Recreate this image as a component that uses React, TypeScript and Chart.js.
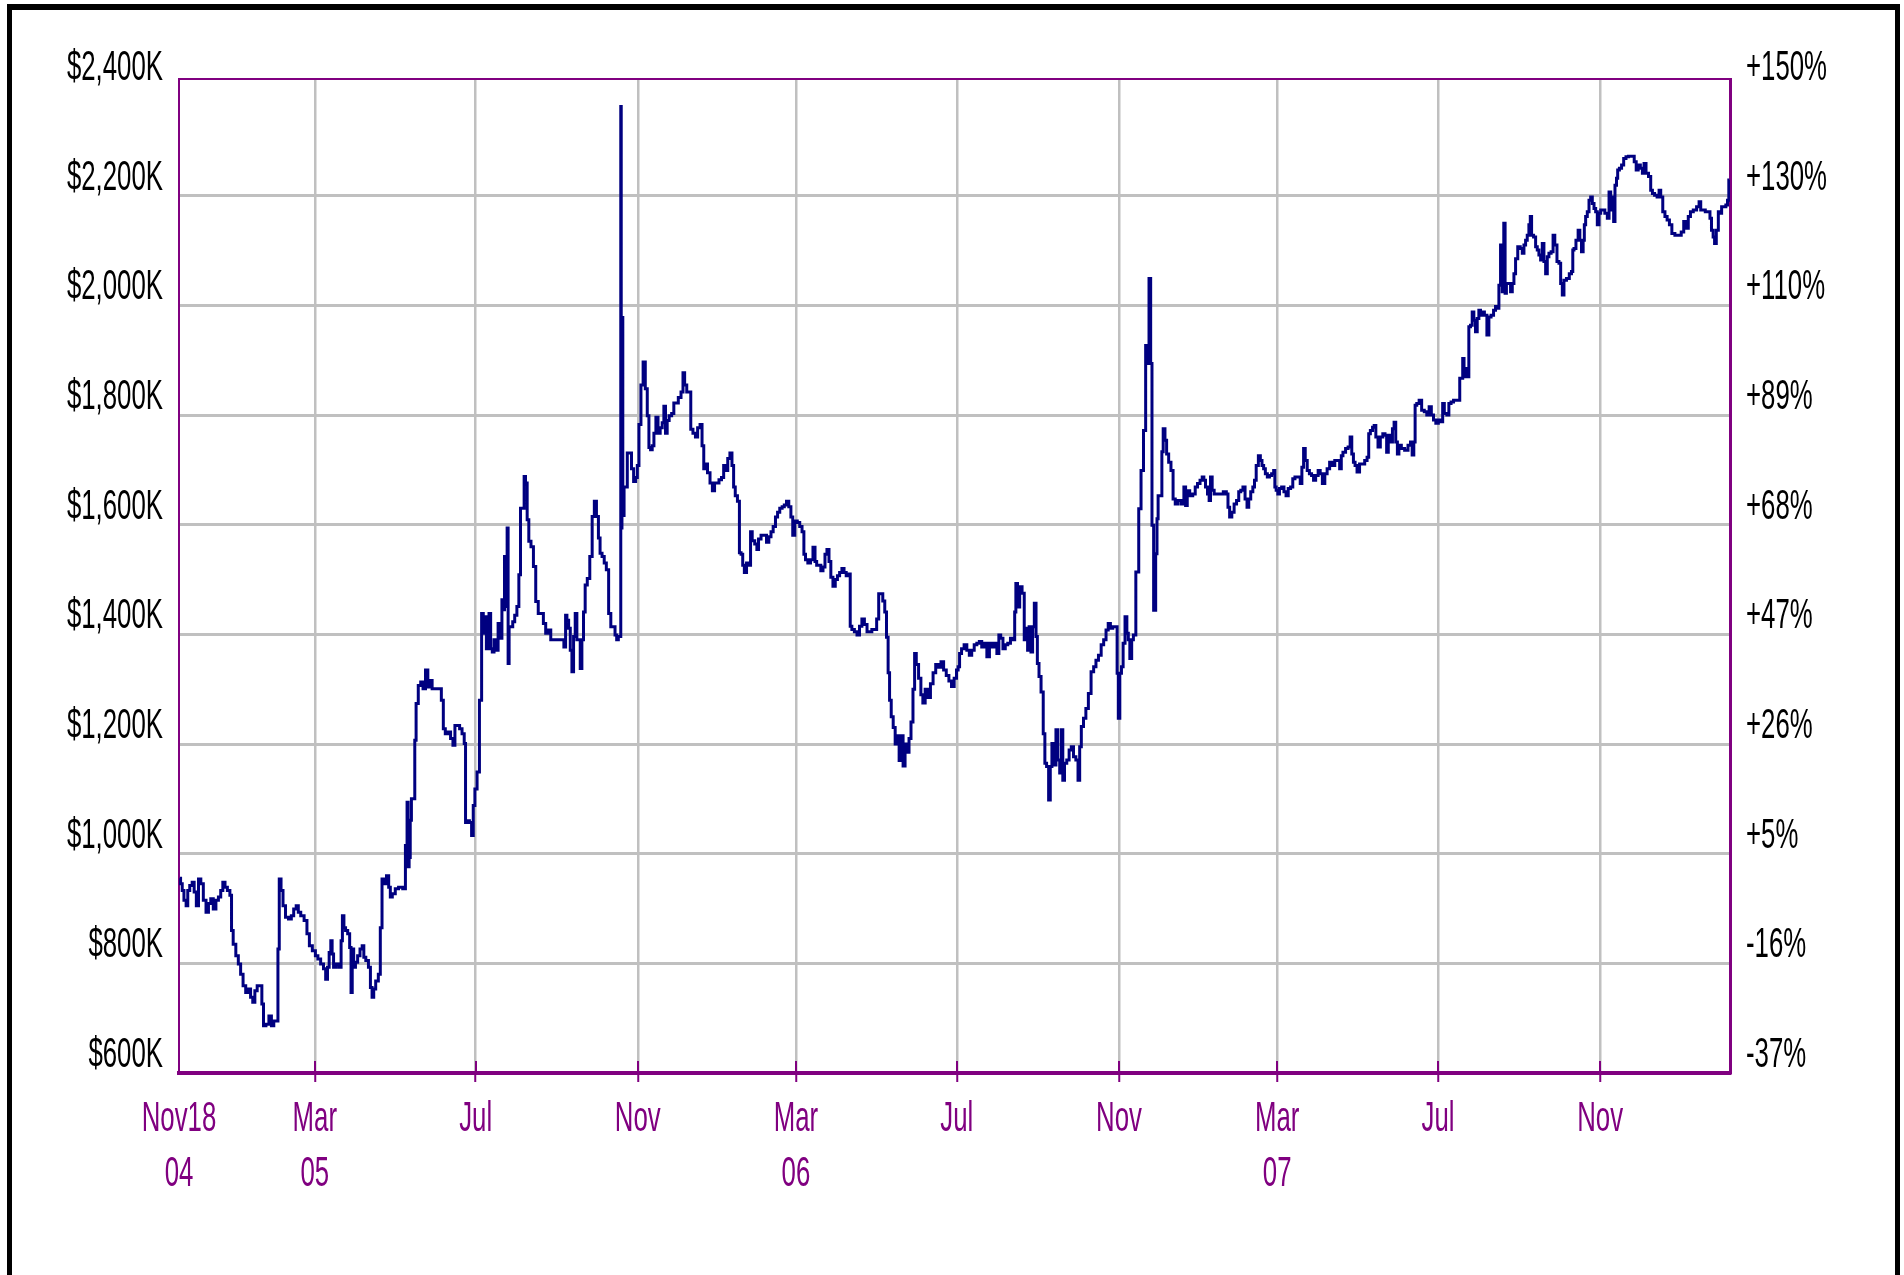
import React, { useEffect, useRef } from "react";
import { Chart, registerables } from "chart.js";

Chart.register(...registerables);

// Tick positions on the time axis: days since 18 Nov 2004
const tickDays = [0, 103, 225, 348, 468, 590, 713, 833, 955, 1078];
const tickMonths = ["Nov18", "Mar", "Jul", "Nov", "Mar", "Jul", "Nov", "Mar", "Jul", "Nov"];
const tickYears = ["04", "05", "", "", "06", "", "", "07", "", ""];
const lastDay = 1176.5;

// Value axis (thousands of dollars) and matching return labels
const valueTicks = [600, 800, 1000, 1200, 1400, 1600, 1800, 2000, 2200, 2400];
const valueLabels = ["$600K", "$800K", "$1,000K", "$1,200K", "$1,400K", "$1,600K", "$1,800K", "$2,000K", "$2,200K", "$2,400K"];
const returnLabels = ["-37%", "-16%", "+5%", "+26%", "+47%", "+68%", "+89%", "+110%", "+130%", "+150%"];

// Portfolio value series: day offsets and values ($K)
const seriesDays = [
  0.6, 1.8, 3.1, 4.4, 6.4, 6.9, 9.4, 10.6, 12.4, 13.9, 15.7, 17.4, 19.5, 21.5, 23.2, 25, 27, 29, 30.8, 32.5,
  34, 35.8, 37.6, 39.6, 40.1, 42.1, 44.1, 45.9, 47.6, 49.6, 51.6, 53.4, 55.2, 56.7, 58.4, 60.2, 62.2, 63.5, 64.7, 67.2,
  69.2, 71, 72.8, 74.8, 75.3, 76.8, 78, 79.8, 81.8, 84.3, 86.1, 87.9, 89.9, 91.1, 93.6, 96.2, 97.9, 99.9, 102.4, 104.5,
  106.2, 108.7, 110.5, 112, 113.3, 114.5, 115.8, 116.5, 118, 120, 122.6, 123.3, 124.6, 125.6, 127.1, 128.8, 130.1, 130.9, 131.9, 133.1,
  134.6, 136.4, 138.2, 139.7, 140.7, 142.7, 144.7, 145.7, 147.2, 148.2, 150.2, 152.2, 153.2, 154.8, 156.5, 158.3, 159.8, 160.8, 162.8, 165.3,
  167.8, 171.6, 171.9, 172.6, 173.4, 174.2, 174.9, 175.9, 176.7, 178.5, 179.2, 180.5, 182.5, 184.2, 186, 188, 189.5, 191, 193, 195.6,
  198, 200, 201, 203, 205, 207, 208.6, 210, 212, 213.7, 215.7, 217, 217.7, 219.4, 221.2, 222.7, 223.7, 225.2, 227, 228.8,
  230.3, 231.3, 232.5, 233.8, 234.5, 235.8, 237, 238.3, 239.6, 241.3, 242.8, 244.6, 245.3, 246.4, 247.4, 248.4, 249.4, 249.9, 250.9, 252.4,
  253.9, 255.4, 257.2, 258.4, 259.7, 261.4, 262.2, 263.5, 264.7, 266, 268, 269.7, 271.5, 273.5, 275.5, 277.3, 279, 281, 283, 286,
  291, 292.9, 293.6, 294.9, 296.2, 297.4, 298.7, 299.9, 301.2, 302.4, 303.7, 305, 306.2, 307.5, 308.7, 310.7, 312.5, 314.3, 315.8, 317.5,
  318.8, 320, 321.8, 323.3, 325, 326.8, 328.3, 330.1, 331.4, 332.6, 333.9, 335, 335.2, 335.7, 336.3, 337, 338.2, 339.4, 340.7, 342.5,
  344, 345.7, 347, 348.3, 349.5, 351.3, 352.8, 354.6, 355.8, 357.1, 358.3, 359.6, 360.9, 362.6, 364.1, 365.9, 367.2, 368.4, 369.7, 370.9,
  372.7, 374.7, 376, 377.7, 379.8, 381.8, 382.8, 384.3, 386, 387.8, 388.6, 391.1, 392.4, 394.4, 396.1, 397.4, 398.7, 399.9, 401.9, 403.7,
  405.5, 407, 408.7, 410.5, 412.5, 413.8, 415.5, 417, 418.8, 420.1, 421.3, 422.6, 424.6, 425.6, 427.1, 428.1, 429.6, 431.4, 433.2, 433.9,
  435.7, 437.7, 439, 440.2, 442.8, 444.8, 446.5, 448.3, 449.8, 451.6, 453.3, 454.8, 456.6, 458.4, 459.9, 461.7, 463.4, 464.9, 466.2, 468,
  470, 471.7, 473.5, 474.5, 476, 478, 480, 481.8, 483.1, 484.3, 486.1, 487.6, 489.4, 490.6, 492.4, 493.7, 495.2, 496.9, 498.7, 500.2,
  502, 503.7, 505.2, 507, 508.8, 509.5, 511.3, 513.3, 515.3, 517.1, 518.9, 520.9, 522.9, 524.7, 526.4, 528.4, 530, 531.5, 533, 534.7,
  536, 537.3, 538.5, 539.5, 541, 542.5, 544, 545.5, 547, 548.5, 550, 551.5, 553, 554.5, 556, 557.5, 558.5, 560, 562, 563.5,
  565, 567, 569, 571, 573, 575, 577, 579, 581, 583, 585, 587, 589, 590.5, 591.5, 592.7, 594.5, 596.6, 598.6, 600.4,
  602.2, 604.2, 606.2, 608, 609.8, 611.8, 613.8, 615.7, 617.5, 619.5, 621.3, 622.5, 624.1, 625.9, 627.6, 629.7, 631.7, 633.5, 634.3, 635.3,
  636.8, 638.6, 640.4, 641.9, 643.2, 644.2, 645.5, 647, 648, 649.6, 650.6, 651.6, 653.1, 654.7, 656.4, 657.2, 659, 660.3, 661.5, 662.8,
  664.6, 665.8, 667.4, 668.7, 669.9, 670.9, 672.5, 674.3, 676.1, 677.6, 679.4, 681.2, 682.7, 683.7, 685.2, 687, 688.8, 690.8, 692.9, 694.7,
  696.4, 698.5, 700.5, 702.3, 704.1, 705.6, 707.4, 709.2, 711.2, 712, 713, 714.3, 715.5, 716.8, 718.4, 719.6, 720.6, 721.9, 723.4, 724.5,
  727.1, 728.9, 730.6, 732.6, 733.9, 735.2, 736.4, 737.7, 738.4, 740.2, 741.5, 742.2, 743.2, 745.3, 745.8, 747.3, 748.5, 749.8, 751.6, 753.3,
  754.8, 756.6, 759.1, 761.6, 762.9, 764.2, 765.4, 767.9, 770, 771.7, 773.5, 775.5, 776.8, 778, 779.3, 781, 781.8, 783.1, 784.3, 786.1,
  788.1, 790.6, 793.7, 795.2, 796.2, 797.7, 799.5, 801.2, 803.2, 804.5, 806.3, 807.8, 809.5, 810.8, 812.1, 813.8, 815.3, 816.3, 817.9, 819.6,
  820.9, 822.1, 823.4, 824.7, 826.4, 827.9, 829.7, 831, 831.5, 833, 834, 835.5, 837.3, 839, 840.5, 842.3, 844.1, 845.6, 847.4, 849.9,
  851.1, 852.4, 853.7, 854.9, 856.7, 858.2, 860, 861.2, 863.2, 865, 866.3, 868.3, 870, 871.8, 873.8, 875.8, 877.6, 879.4, 881.4, 881.9,
  883.9, 885.9, 887.7, 889, 890.2, 891.5, 892.7, 894.5, 896.5, 898.5, 900.3, 902.1, 902.8, 904.6, 906.1, 907.1, 908.6, 910.4, 912.1, 914.2,
  915.4, 916.7, 917.9, 919.7, 921.2, 922.2, 923.7, 924.7, 926, 928.4, 931, 933.5, 934.8, 936, 937.3, 938, 939.8, 941.6, 943.6, 945.6,
  947.4, 949.2, 950.7, 952.5, 954.2, 956.3, 958.3, 958.8, 960.8, 962.6, 963.9, 965.9, 967.7, 969.4, 971, 972, 973.5, 974, 975.5, 976.5,
  977.8, 979, 980.3, 981.6, 982.8, 984.1, 985.4, 986.6, 987.9, 989.2, 991.2, 993, 994.2, 996.3, 998, 999.3, 1000.6, 1001.8, 1003.1, 1004.4,
  1005.4, 1006.4, 1007.4, 1009.4, 1010.7, 1012, 1013.2, 1014.5, 1016.5, 1018.3, 1019.6, 1020.8, 1022.1, 1023.3, 1024.6, 1025.4, 1026.6, 1028.4, 1029.7, 1030.9,
  1032.2, 1033.5, 1034.7, 1036, 1037.3, 1038.5, 1039.8, 1041.8, 1042.8, 1044.4, 1046.1, 1047.4, 1048.7, 1049.9, 1051.2, 1053.7, 1055.5, 1057, 1057.5, 1058.8,
  1060.5, 1062.1, 1063.1, 1064.6, 1065.6, 1066.4, 1067.6, 1068.9, 1070.2, 1071.4, 1072.7, 1074, 1075.2, 1076.5, 1077.8, 1079, 1080.3, 1082.8, 1084.1, 1085.4,
  1086.6, 1087.9, 1088.6, 1089.9, 1090.9, 1091.7, 1093.5, 1095, 1096.7, 1098.5, 1100.5, 1103.1, 1104.6, 1106.1, 1107.6, 1109.4, 1110.7, 1111.9, 1113.7, 1115.7,
  1117, 1118.3, 1120.3, 1122.1, 1123.3, 1124.6, 1126.4, 1127.9, 1129.7, 1131.4, 1133.4, 1136, 1138.5, 1140.5, 1142.3, 1144.1, 1145.6, 1147.4, 1149.9, 1152.4,
  1153.7, 1154.9, 1156.7, 1158.8, 1160.8, 1161.8, 1163.1, 1164.3, 1165.3, 1166.9, 1168.4, 1169.4, 1170.9, 1172.7, 1174, 1175.2, 1176
];

const seriesValues = [
  955, 945, 933, 915, 905, 933, 942, 948, 930, 905, 954, 945, 915, 893, 909, 918, 899, 915, 921, 933,
  948, 939, 933, 924, 860, 835, 814, 799, 780, 759, 747, 753, 738, 729, 750, 759, 759, 726, 686, 689,
  704, 686, 695, 695, 826, 954, 933, 905, 884, 881, 887, 899, 905, 893, 887, 878, 854, 832, 823, 814,
  808, 799, 790, 771, 793, 820, 841, 817, 793, 799, 793, 841, 887, 865, 860, 854, 829, 747, 826, 793,
  802, 814, 826, 832, 811, 805, 793, 756, 738, 753, 768, 780, 865, 954, 945, 960, 939, 921, 927, 936,
  939, 936, 1015, 993, 1094, 976, 993, 1061, 1100, 1100, 1207, 1274, 1307, 1313, 1301, 1335, 1304, 1316, 1301, 1301,
  1301, 1280, 1228, 1219, 1222, 1210, 1198, 1234, 1234, 1228, 1219, 1201, 1057, 1060, 1057, 1033, 1088, 1118, 1149, 1280,
  1438, 1402, 1432, 1374, 1408, 1438, 1374, 1368, 1390, 1371, 1420, 1393, 1463, 1445, 1542, 1451, 1594, 1347, 1414, 1414,
  1423, 1435, 1451, 1509, 1630, 1630, 1688, 1676, 1609, 1570, 1560, 1524, 1460, 1438, 1438, 1420, 1402, 1408, 1390, 1390,
  1390, 1377, 1435, 1426, 1411, 1371, 1332, 1396, 1438, 1390, 1390, 1338, 1390, 1441, 1490, 1502, 1542, 1615, 1643, 1615,
  1576, 1548, 1542, 1530, 1518, 1438, 1414, 1414, 1399, 1390, 1396, 1396, 2363, 1594, 1978, 1617, 1669, 1669, 1731, 1731,
  1702, 1679, 1686, 1708, 1783, 1855, 1897, 1848, 1799, 1741, 1737, 1744, 1767, 1796, 1767, 1777, 1786, 1816, 1767, 1790,
  1799, 1803, 1822, 1822, 1832, 1842, 1877, 1855, 1842, 1842, 1774, 1767, 1760, 1777, 1783, 1744, 1702, 1711, 1695, 1676,
  1662, 1676, 1676, 1682, 1686, 1708, 1699, 1721, 1731, 1708, 1669, 1653, 1643, 1549, 1546, 1526, 1513, 1530, 1526, 1587,
  1571, 1565, 1555, 1574, 1581, 1581, 1568, 1578, 1587, 1597, 1614, 1623, 1630, 1633, 1636, 1643, 1633, 1614, 1581, 1607,
  1604, 1597, 1587, 1546, 1536, 1530, 1536, 1559, 1533, 1526, 1526, 1516, 1523, 1546, 1555, 1533, 1504, 1488, 1500, 1507,
  1513, 1520, 1513, 1507, 1510, 1415, 1409, 1405, 1399, 1415, 1428, 1418, 1405, 1405, 1409, 1409, 1428, 1474, 1474, 1461,
  1441, 1395, 1330, 1280, 1250, 1230, 1200, 1215, 1170, 1215, 1160, 1200, 1185, 1210, 1240, 1300, 1365, 1345, 1320, 1290,
  1275, 1300, 1285, 1310, 1330, 1345, 1340, 1350, 1335, 1325, 1315, 1305, 1320, 1335, 1341, 1365, 1374, 1381, 1371, 1362,
  1371, 1381, 1384, 1387, 1377, 1384, 1359, 1384, 1377, 1384, 1365, 1399, 1393, 1374, 1381, 1384, 1393, 1390, 1441, 1493,
  1450, 1487, 1475, 1390, 1411, 1371, 1414, 1368, 1414, 1457, 1396, 1347, 1323, 1295, 1219, 1165, 1159, 1098, 1159, 1201,
  1162, 1226, 1171, 1147, 1226, 1134, 1165, 1171, 1189, 1195, 1177, 1171, 1134, 1195, 1232, 1247, 1265, 1292, 1332, 1341,
  1353, 1362, 1381, 1390, 1408, 1420, 1411, 1414, 1414, 1329, 1247, 1329, 1341, 1384, 1432, 1402, 1390, 1356, 1390, 1399,
  1514, 1629, 1699, 1772, 1927, 1894, 2049, 1894, 1599, 1444, 1547, 1611, 1653, 1653, 1733, 1775, 1754, 1729, 1714, 1699,
  1647, 1638, 1644, 1638, 1669, 1635, 1662, 1653, 1656, 1669, 1675, 1681, 1687, 1681, 1669, 1656, 1644, 1687, 1663, 1656,
  1656, 1656, 1660, 1656, 1632, 1614, 1623, 1638, 1644, 1660, 1663, 1669, 1647, 1632, 1647, 1660, 1669, 1681, 1708, 1726,
  1717, 1708, 1702, 1693, 1687, 1690, 1693, 1699, 1669, 1663, 1656, 1666, 1669, 1660, 1653, 1666, 1669, 1684, 1687, 1687,
  1675, 1705, 1739, 1717, 1699, 1693, 1690, 1681, 1690, 1699, 1693, 1675, 1693, 1702, 1714, 1708, 1717, 1717, 1702, 1726,
  1732, 1739, 1742, 1760, 1729, 1714, 1708, 1696, 1711, 1711, 1717, 1723, 1766, 1772, 1778, 1781, 1760, 1742, 1760, 1766,
  1763, 1732, 1763, 1751, 1775, 1787, 1751, 1729, 1745, 1739, 1736, 1745, 1751, 1727, 1751, 1818, 1821, 1827, 1809, 1806,
  1800, 1815, 1800, 1791, 1785, 1791, 1788, 1821, 1803, 1800, 1821, 1824, 1827, 1827, 1827, 1867, 1867, 1903, 1870, 1885,
  1870, 1961, 1964, 1988, 1973, 1952, 1976, 1991, 1982, 1988, 1982, 1946, 1979, 1982, 1991, 1998, 1995, 2037, 2110, 2025,
  2150, 2022, 2040, 2040, 2025, 2040, 2058, 2085, 2107, 2104, 2095, 2110, 2119, 2128, 2147, 2162, 2128, 2125, 2107, 2101,
  2092, 2083, 2113, 2080, 2058, 2089, 2095, 2098, 2128, 2110, 2080, 2077, 2040, 2019, 2046, 2049, 2058, 2062, 2101, 2104,
  2119, 2137, 2119, 2098, 2119, 2147, 2162, 2171, 2192, 2198, 2186, 2177, 2171, 2147, 2168, 2174, 2174, 2168, 2159, 2207,
  2174, 2198, 2153, 2219, 2232, 2247, 2250, 2256, 2268, 2271, 2272, 2272, 2262, 2247, 2256, 2250, 2241, 2259, 2241, 2235,
  2210, 2204, 2201, 2198, 2210, 2198, 2171, 2162, 2156, 2147, 2131, 2128, 2128, 2134, 2153, 2141, 2162, 2171, 2174, 2180,
  2189, 2174, 2174, 2171, 2171, 2159, 2137, 2125, 2113, 2137, 2171, 2168, 2180, 2180, 2183, 2192, 2229
];

const PURPLE = "#800080";
const GRID = "#C0C0C0";
const NAVY = "#000080";
const FONT_FAMILY = "'Liberation Sans', Arial, sans-serif";
const TEXT_SCALE_X = 0.6;

const innerTickPlugin = {
  id: "innerTicks",
  beforeDatasetsDraw(chart: any) {
    const xs = chart.scales.x;
    const ctx = chart.ctx;
    const bottom = chart.chartArea.bottom;
    ctx.save();
    ctx.strokeStyle = PURPLE;
    ctx.lineWidth = 2;
    tickDays.forEach((d, i) => {
      if (i === 0) return;
      const px = Math.round(xs.getPixelForValue(d));
      ctx.beginPath();
      ctx.moveTo(px, bottom - 12);
      ctx.lineTo(px, bottom);
      ctx.stroke();
    });
    ctx.restore();
  },
};

export default function App() {
  const ref = useRef<HTMLCanvasElement | null>(null);

  useEffect(() => {
    const canvas = ref.current;
    if (!canvas) return;
    const ctx = canvas.getContext("2d") as CanvasRenderingContext2D;
    // condensed lettering like the original bitmap font: squeeze text horizontally around its anchor
    const origFill = ctx.fillText.bind(ctx);
    (ctx as any).fillText = (text: string, x: number, y: number, maxWidth?: number) => {
      ctx.save();
      ctx.translate(x, y);
      ctx.scale(TEXT_SCALE_X, 1);
      if (maxWidth === undefined || maxWidth === null) origFill(text, 0, 0);
      else origFill(text, 0, 0, maxWidth / TEXT_SCALE_X);
      ctx.restore();
    };

    const points = seriesDays.map((d, i) => ({ x: d, y: seriesValues[i] }));
    const setValueTicks = (s: any) => {
      s.ticks = valueTicks.map((v) => ({ value: v }));
    };
    const font = { family: FONT_FAMILY, size: 43, lineHeight: 1.28 };
    const chart = new Chart(ctx, {
      type: "line",
      data: {
        datasets: [
          {
            data: points,
            borderColor: NAVY,
            borderWidth: 3,
            pointRadius: 0,
            fill: false,
            tension: 0,
            stepped: "middle",
            xAxisID: "x",
            yAxisID: "y",
          } as any,
        ],
      },
      options: {
        animation: false,
        responsive: false,
        events: [],
        layout: { padding: { top: 79, left: 0, right: 0, bottom: 0 } },
        plugins: { legend: { display: false }, tooltip: { enabled: false } },
        scales: {
          x: {
            type: "linear",
            position: "bottom",
            min: 0,
            max: lastDay,
            afterBuildTicks: (s: any) => {
              s.ticks = tickDays.map((v) => ({ value: v }));
            },
            afterFit: (s: any) => {
              s.height = 202;
            },
            grid: {
              color: (c: any) => (c.index === 0 ? "rgba(0,0,0,0)" : GRID),
              lineWidth: 2.5,
              tickColor: (c: any) => (c.index === 0 ? "rgba(0,0,0,0)" : PURPLE),
              tickLength: 9,
              tickWidth: 2,
            },
            border: { color: PURPLE, width: 4 },
            ticks: {
              autoSkip: false,
              maxRotation: 0,
              minRotation: 0,
              padding: 10,
              color: PURPLE,
              font,
              callback: (v: any) => {
                const i = tickDays.indexOf(Number(v));
                if (i < 0) return "";
                return tickYears[i] ? [tickMonths[i], tickYears[i]] : tickMonths[i];
              },
            },
          },
          xTop: {
            type: "linear",
            position: "top",
            min: 0,
            max: lastDay,
            grid: { display: false, drawTicks: false },
            ticks: { display: false },
            border: { color: PURPLE, width: 2 },
            afterFit: (s: any) => {
              s.height = 0;
            },
          },
          y: {
            type: "linear",
            position: "left",
            min: 600,
            max: 2413,
            afterBuildTicks: setValueTicks,
            afterFit: (s: any) => {
              s.width = 179;
            },
            grid: {
              color: (c: any) =>
                c.tick && (c.tick.value === 600 || c.tick.value === 2400) ? "rgba(0,0,0,0)" : GRID,
              lineWidth: 3,
              drawTicks: false,
            },
            border: { color: PURPLE, width: 2 },
            ticks: {
              padding: 16,
              labelOffset: -18,
              color: "#000000",
              font,
              callback: (v: any) => valueLabels[valueTicks.indexOf(Number(v))] ?? "",
            },
          },
          y2: {
            type: "linear",
            position: "right",
            min: 600,
            max: 2413,
            afterBuildTicks: setValueTicks,
            afterFit: (s: any) => {
              s.width = 174;
            },
            grid: { display: false, drawTicks: false },
            border: { color: PURPLE, width: 3 },
            ticks: {
              padding: 16,
              labelOffset: -18,
              color: "#000000",
              font,
              callback: (v: any) => returnLabels[valueTicks.indexOf(Number(v))] ?? "",
            },
          },
        },
      } as any,
      plugins: [innerTickPlugin],
    });
    return () => {
      chart.destroy();
      delete (ctx as any).fillText;
    };
  }, []);

  return (
    <div
      style={{
        position: "fixed",
        left: 0,
        top: 0,
        width: 1904,
        height: 1275,
        background: "#ffffff",
        overflow: "hidden",
      }}
    >
      <div
        style={{
          position: "absolute",
          left: 7,
          top: 4,
          width: 1893,
          height: 1400,
          boxSizing: "border-box",
          borderStyle: "solid",
          borderColor: "#000000",
          borderWidth: "6px 5px 0 5px",
        }}
      />
      <canvas
        ref={ref}
        width={1904}
        height={1275}
        style={{ position: "absolute", left: 0, top: 0, width: 1904, height: 1275 }}
      />
    </div>
  );
}
